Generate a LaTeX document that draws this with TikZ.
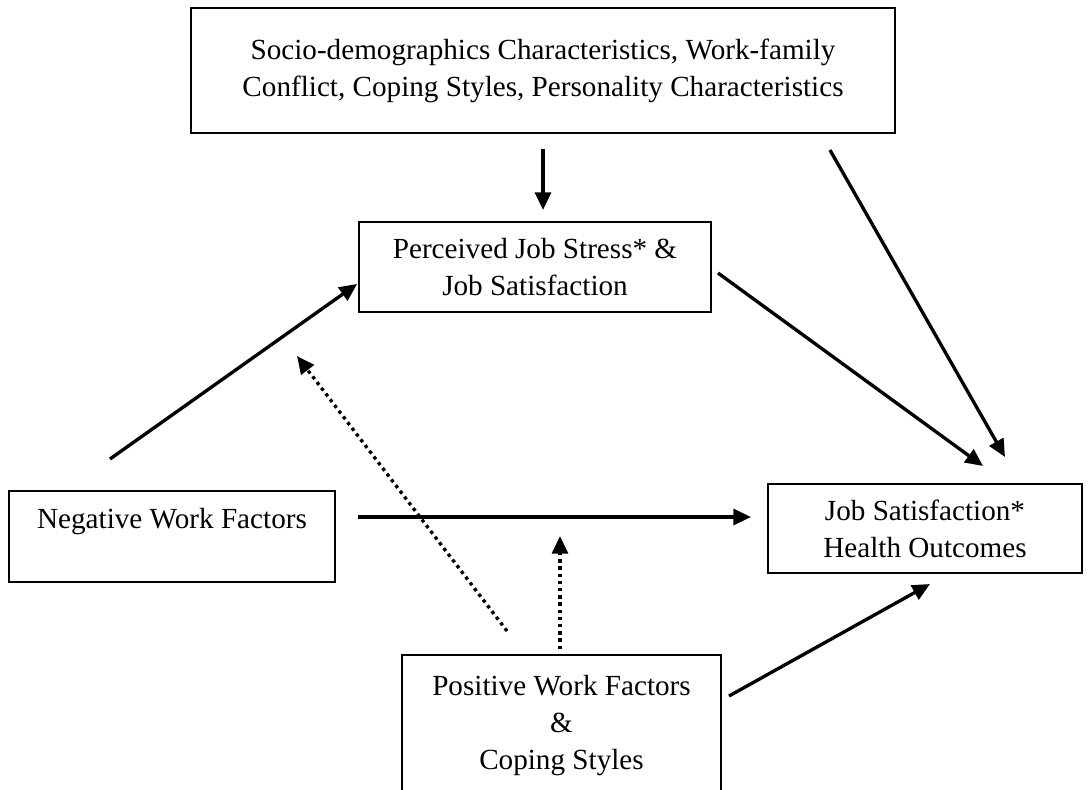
\documentclass[tikz,border=0pt]{standalone}
\usepackage{fontspec}
\setmainfont{Liberation Serif}
\usetikzlibrary{arrows.meta,calc,positioning}

\begin{document}
\begin{tikzpicture}[x=0.02cm,y=-0.02cm,align=center,font=\fontsize{16.6pt}{21pt}\selectfont]
\tikzstyle{box}=[rectangle,draw=black,line width=1.15pt,inner sep=0pt]
\tikzstyle{link}=[-{Triangle[length=10pt,width=9pt]},line width=1.9pt]
\tikzstyle{moder}=[link,dash pattern=on 1.9pt off 2.2pt]

\useasboundingbox (0,0) rectangle (1088,789);
\clip (0,0) rectangle (1088,789);

\node[box,minimum width=14.08cm,minimum height=2.5cm] (soc) at (543,70.5)
  {Socio-demographics Characteristics, Work-family\\ Conflict, Coping Styles, Personality Characteristics};
\node[box,minimum width=7.04cm,minimum height=1.8cm] (stress) at (535,267)
  {Perceived Job Stress* \&\\ Job Satisfaction};
\node[box,minimum width=6.52cm,minimum height=1.82cm] (neg) at (172,536.5)
  {Negative Work Factors\\ \mbox{}};
\node[box,minimum width=6.28cm,minimum height=1.78cm] (js) at (925,528.5)
  {Job Satisfaction*\\ Health Outcomes};
\node[box,minimum width=6.38cm,minimum height=3.44cm] (pos) at (561.5,741)
  {Positive Work Factors\\ \&\\ Coping Styles\\ \mbox{}};

\path
  (soc.south) edge [link, shorten <=0.3cm, shorten >=0.22cm] (soc.south |- stress.north)
  ($(soc.south east)+(-66,16)$) edge [link] ($(js.north)+(80,-26)$)
  ($(stress.east)+(6,6)$) edge [link] ($(js.north)+(58,-17)$)
  ($(neg.north)+(-62,-31)$) edge [link] ($(stress.west)+(-1,17)$)
  ($(neg.east)+(22,-19.5)$) edge [link] ($(js.west)+(-16,-11.5)$)
  ($(pos.north east)+(7,42)$) edge [link] ($(js.south)+(5,10)$);

% moderating paths
\path
  ($(pos.north)+(-54.5,-23)$) edge [moder] ($(stress.south west)+(-61,43)$)
  ($(pos.north)+(-1.5,-5)$) edge [moder] ($(pos.north)+(-1.5,-118)$);
\end{tikzpicture}
\end{document}
